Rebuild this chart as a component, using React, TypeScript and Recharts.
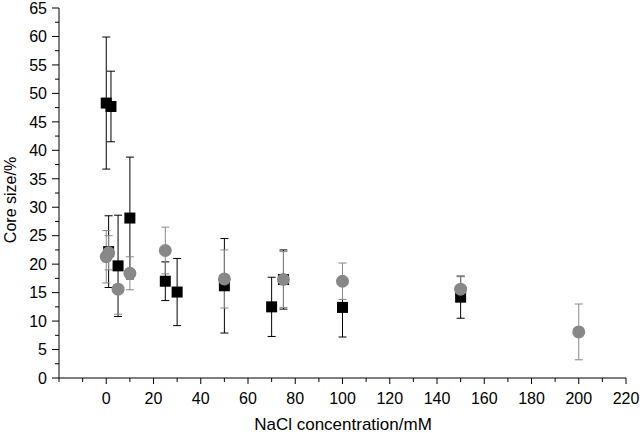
import { ScatterChart, Scatter, XAxis, YAxis, ErrorBar, Label } from 'recharts';

// black squares
const blackX = [0, 2, 1, 5, 10, 25, 30, 50, 70, 75, 100, 150];
const blackY = [48.3, 47.7, 22.2, 19.7, 28.1, 17.0, 15.1, 16.2, 12.5, 17.3, 12.4, 14.2];
const blackErr = [11.6, 6.2, 6.3, 8.9, 10.7, 3.4, 5.9, 8.3, 5.2, 5.2, 5.2, 3.7];

// grey circles
const grayX = [0, 1, 5, 10, 25, 50, 75, 100, 150, 200];
const grayY = [21.3, 22.0, 15.6, 18.4, 22.4, 17.4, 17.3, 17.0, 15.6, 8.1];
const grayErr = [4.6, 3.0, 4.4, 2.9, 4.1, 5.1, 4.9, 3.2, 2.2, 4.9];

const xTicks = [-20, -10, 0, 10, 20, 30, 40, 50, 60, 70, 80, 90, 100, 110, 120, 130, 140, 150, 160, 170, 180, 190, 200, 210, 220];
const yTicks = [0, 2.5, 5, 7.5, 10, 12.5, 15, 17.5, 20, 22.5, 25, 27.5, 30, 32.5, 35, 37.5, 40, 42.5, 45, 47.5, 50, 52.5, 55, 57.5, 60, 62.5, 65];

const FONT = '"Liberation Sans", Arial, sans-serif';
const GREY = '#888888';

const blackData = blackX.map((x, i) => ({ x, y: blackY[i], err: blackErr[i] }));
const grayData = grayX.map((x, i) => ({ x, y: grayY[i], err: grayErr[i] }));

function XTick({ x, y, payload }: any) {
  const v = payload.value;
  const major = v >= 0 && v % 20 === 0;
  return (
    <g>
      <line x1={x} x2={x} y1={y} y2={y + (major ? 6 : 4)} stroke="#000" />
      {major && (
        <text x={x} y={y + 26} textAnchor="middle" fontSize={16} fontFamily={FONT} fill="#000">
          {v}
        </text>
      )}
    </g>
  );
}

function YTick({ x, y, payload }: any) {
  const v = payload.value;
  const major = v % 5 === 0;
  return (
    <g>
      <line x1={x - (major ? 7 : 4)} x2={x} y1={y} y2={y} stroke="#000" />
      {major && (
        <text x={x - 12} y={y} dy="0.36em" textAnchor="end" fontSize={16} fontFamily={FONT} fill="#000">
          {v}
        </text>
      )}
    </g>
  );
}

const Square = ({ cx, cy }: any) => <rect x={cx - 5.5} y={cy - 5.5} width={11} height={11} fill="#000" />;
const Dot = ({ cx, cy }: any) => <circle cx={cx} cy={cy} r={6.5} fill={GREY} />;

export default function App() {
  return (
    <div style={{ position: 'absolute', left: 0, top: 0, background: '#fff' }}>
      <ScatterChart width={640} height={433} margin={{ top: 8, right: 14, bottom: 0, left: 0 }}>
        <XAxis
          type="number"
          dataKey="x"
          domain={[-20, 220]}
          ticks={xTicks}
          interval={0}
          tick={XTick}
          tickLine={false}
          tickSize={0}
          tickMargin={0}
          axisLine={{ stroke: '#000' }}
          height={55}
        >
          <Label
            content={() => (
              <text x={343} y={430} textAnchor="middle" fontSize={17} fontFamily={FONT} fill="#000">
                NaCl concentration/mM
              </text>
            )}
          />
        </XAxis>
        <YAxis
          type="number"
          dataKey="y"
          domain={[0, 65]}
          ticks={yTicks}
          interval={0}
          tick={YTick}
          tickLine={false}
          tickSize={0}
          tickMargin={0}
          axisLine={{ stroke: '#000' }}
          width={59}
        >
          <Label
            content={() => (
              <text
                x={10}
                y={200}
                transform="rotate(-90 10 200)"
                textAnchor="middle"
                dy="0.36em"
                fontSize={16}
                fontFamily={FONT}
                fill="#000"
              >
                Core size/%
              </text>
            )}
          />
        </YAxis>
        <Scatter data={blackData} shape={Square} isAnimationActive={false}>
          <ErrorBar dataKey="err" direction="y" width={4} stroke="#000" strokeWidth={1} isAnimationActive={false} />
        </Scatter>
        <Scatter data={grayData} shape={Dot} isAnimationActive={false}>
          <ErrorBar dataKey="err" direction="y" width={4} stroke={GREY} strokeWidth={1} isAnimationActive={false} />
        </Scatter>
      </ScatterChart>
    </div>
  );
}
